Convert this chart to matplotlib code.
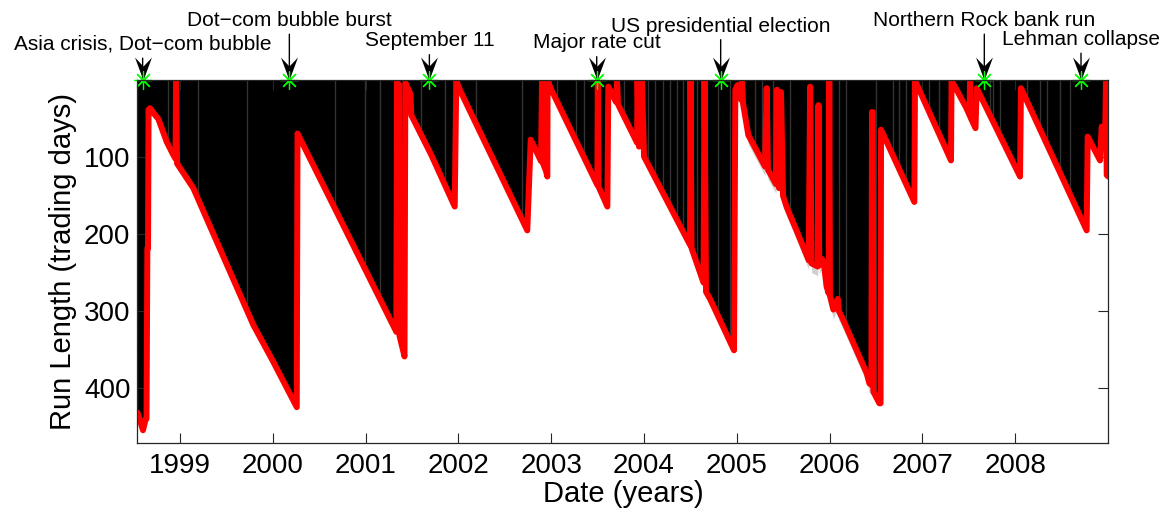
import numpy as np
import matplotlib.pyplot as plt
from matplotlib.path import Path

plt.rcParams['font.family'] = ['Liberation Sans', 'DejaVu Sans']

# MAP run length (trading days) against date in fractional years
run_t = [1998.542, 1998.601, 1998.628, 1998.639, 1998.648, 1998.655, 1998.661,
         1998.677, 1998.731, 1998.766, 1998.857, 1998.928, 1998.952, 1998.957,
         1998.968, 1999.143, 1999.288, 1999.539, 1999.790, 2000.005, 2000.258,
         2000.266, 2001.331, 2001.338, 2001.360, 2001.365, 2001.419, 2001.428,
         2001.484, 2001.492, 2001.708, 2001.960, 2001.977, 2002.014, 2002.742,
         2002.779, 2002.890, 2002.901, 2002.912, 2002.944, 2002.958, 2002.961,
         2003.001, 2003.497, 2003.502, 2003.510, 2003.605, 2003.615, 2003.677,
         2003.698, 2003.709, 2003.720, 2003.925, 2003.930, 2003.946, 2003.978,
         2004.000, 2004.496, 2004.501, 2004.512, 2004.641, 2004.652, 2004.668,
         2004.711, 2004.970, 2004.984, 2005.008, 2005.045, 2005.056, 2005.067,
         2005.124, 2005.304, 2005.322, 2005.335, 2005.422, 2005.433, 2005.455,
         2005.476, 2005.498, 2005.538, 2005.643, 2005.775, 2005.790, 2005.805,
         2005.872, 2005.880, 2005.888, 2005.918, 2005.940, 2005.967, 2005.990,
         2005.996, 2006.004, 2006.040, 2006.088, 2006.100, 2006.148, 2006.400,
         2006.428, 2006.450, 2006.457, 2006.465, 2006.472, 2006.536, 2006.549,
         2006.554, 2006.913, 2006.920, 2007.308, 2007.314, 2007.470, 2007.508,
         2007.513, 2007.518, 2007.572, 2007.585, 2008.052, 2008.062, 2008.770,
         2008.781, 2008.914, 2008.932, 2008.968, 2008.978, 2008.986, 2009.003]
run_len = [432, 455, 441, 440, 218, 218, 38,
           36, 45, 50, 80, 97, 102, 0,
           108, 140, 180, 249, 318, 366, 425,
           69, 327, 2, 6, 332, 359, 3,
           18, 45, 97, 164, 0, 12, 195,
           77, 105, 0, 108, 118, 125, 0,
           12, 136, 0, 138, 164, 8, 23,
           28, 0, 31, 81, 0, 86, 0,
           99, 214, 0, 218, 263, 0, 275,
           284, 351, 12, 6, 25, 2, 30,
           71, 112, 10, 116, 135, 12, 140,
           15, 150, 165, 195, 234, 8, 238,
           242, 32, 240, 232, 240, 268, 277,
           0, 280, 298, 284, 300, 312, 381,
           394, 396, 41, 41, 405, 420, 420,
           64, 158, 0, 104, 0, 35, 45,
           0, 48, 62, 10, 125, 10, 195,
           73, 104, 60, 82, 0, 123, 125]

# faint lighter columns inside the posterior mass
faint_t = [1998.874, 1999.197, 1999.719, 2000.667, 2000.990, 2001.152, 2001.597,
           2001.852, 2002.186, 2002.689, 2003.066, 2003.264, 2003.353, 2003.784,
           2004.046, 2004.119, 2004.208, 2004.280, 2004.352, 2004.424, 2004.568,
           2004.801, 2004.927, 2005.197, 2005.269, 2005.394, 2005.573, 2006.105,
           2006.177, 2006.500, 2006.680, 2006.751, 2006.823, 2007.074, 2007.182,
           2007.728, 2007.764, 2007.836, 2008.124, 2008.267, 2008.340, 2008.483,
           2008.591]

# stretch where the posterior spreads out below the MAP curve
spread_span = (2005.0, 2006.45)

events = ["Asia crisis, Dot\u2212com bubble", "Dot\u2212com bubble burst",
          "September 11", "Major rate cut", "US presidential election",
          "Northern Rock bank run", "Lehman collapse"]
event_t = [1998.597, 2000.178, 2001.687, 2003.490, 2004.826, 2007.667, 2008.709]
# caption baselines, pixels down from the top of the figure
event_row = [50, 26, 46.5, 48.5, 31.5, 26, 45]

year_ticks = list(range(1999, 2009))
len_ticks = [100, 200, 300, 400]

fig = plt.figure(figsize=(11.61, 5.15), dpi=100)
ax = fig.add_axes([0.1183, 0.1392, 0.8363, 0.706])

t = np.array(run_t)
r = np.array(run_len)

# posterior mass: black from zero down to the MAP curve
poly = ax.fill_between(t, -5, r, color='black', lw=0, zorder=1)
cols = ax.vlines(faint_t, -5, 480, color='0.2', lw=1, zorder=1.5)
cols.set_clip_path(poly.get_paths()[0], poly.get_transform())

# grey tail of the posterior just under the curve
spread = (t >= spread_span[0]) & (t <= spread_span[1])
ax.fill_between(t, r, r + 12, where=spread, color='0.6', alpha=0.45,
                lw=0, zorder=0.5)

ax.plot(t, r, color='red', lw=4.3, solid_joinstyle='round',
        solid_capstyle='round', zorder=3)

# event markers with arrows
head = Path([(0, 0), (-8.5, 23), (0, 14), (8.5, 23), (0, 0)],
            [Path.MOVETO, Path.LINETO, Path.LINETO, Path.LINETO, Path.CLOSEPOLY])
zeros = np.zeros(len(event_t))
for name, x, row in zip(events, event_t, event_row):
    ax.annotate(name, xy=(x, 0), xytext=(x, 515 - row),
                textcoords=('data', 'figure pixels'), ha='center', va='baseline',
                fontsize=15, annotation_clip=False, zorder=4,
                arrowprops=dict(arrowstyle='-', color='black', lw=1,
                                shrinkA=1, shrinkB=0))
ax.plot(event_t, zeros, ls='none', marker=head, ms=33, color='black',
        mew=0, clip_on=False, zorder=5)
ax.plot(event_t, zeros, ls='none', marker=(8, 2, 0), ms=13, mec=(0, 1, 0),
        mew=0.9, clip_on=False, zorder=6)

ax.set_xlim(1998.540, 2009.003)
ax.set_ylim(472, -1)
ax.set_xticks(year_ticks)
ax.set_xticklabels([str(y) for y in year_ticks])
ax.set_yticks(len_ticks)
ax.tick_params(direction='in', length=7, width=0.8, top=True, right=True,
               labelsize=20, color='0.15')
ax.tick_params(axis='x', pad=7)
ax.tick_params(axis='y', pad=5)
for s in ax.spines.values():
    s.set_linewidth(0.9)
    s.set_color('0.15')
    s.set_zorder(7)

ax.set_xlabel('Date (years)', fontsize=21, labelpad=1)
ax.set_ylabel('Run Length (trading days)', fontsize=21, labelpad=5)

fig.savefig('out.png', dpi=100)
